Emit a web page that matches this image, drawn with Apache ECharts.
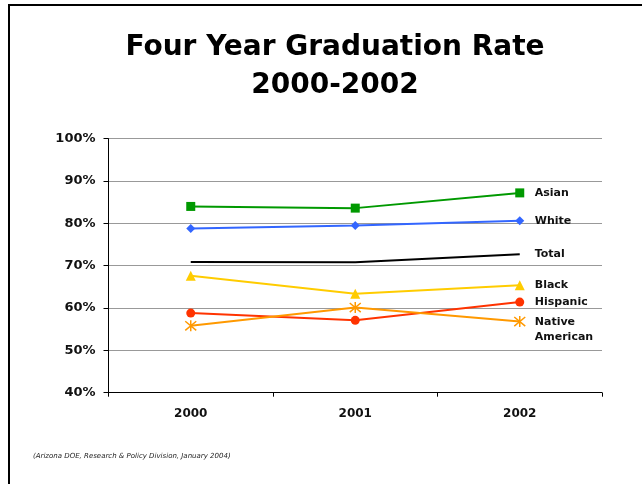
<!DOCTYPE html>
<html><head><meta charset="utf-8">
<script src="https://cdn.jsdelivr.net/npm/echarts@6/dist/echarts.min.js"></script>
<style>html,body{margin:0;padding:0;background:#fff}#c{width:642px;height:484px}</style>
</head><body><div id="c"></div>
<script>
const categories = ['2000', '2001', '2002'];
const asian = [84.0, 83.6, 87.2];
const white = [78.8, 79.5, 80.6];
const total = [70.9, 70.8, 72.7];
const black = [67.6, 63.4, 65.4];
const hispanic = [58.8, 57.1, 61.4];
const nativeAmerican = [55.8, 60.1, 56.8];
const yTicks = [40, 50, 60, 70, 80, 90, 100];

const FONT = 'DejaVu Sans';
const chart = echarts.init(document.getElementById('c'), null, {renderer: 'canvas'});
const star = 'path://M0,0L10,10M10,0L0,10M5,-1L5,11';

function mk(name, data, color, symbol, size, extra) {
  return {
    name, type: 'line', data,
    symbol, symbolSize: size,
    lineStyle: {color, width: 2},
    itemStyle: {color},
    emphasis: {disabled: true},
    animation: false,
    endLabel: {
      show: true, formatter: extra && extra.text ? extra.text : name,
      color: '#111', fontFamily: FONT, fontWeight: 'bold', fontSize: 11,
      distance: 15, offset: extra && extra.offset ? extra.offset : [0, 0],
      align: 'left', lineHeight: 15
    }
  };
}

const sNative = mk('Native American', nativeAmerican, '#FF9900', star, 11, {text: 'Native\nAmerican', offset: [0, 8]});
sNative.itemStyle = {color: 'transparent', borderColor: '#FF9900', borderWidth: 1.5};

chart.setOption({
  backgroundColor: '#fff',
  animation: false,
  title: {
    text: 'Four Year Graduation Rate\n2000-2002',
    left: 330, top: 24, textAlign: 'center',
    textStyle: {fontFamily: FONT, fontWeight: 'bold', fontSize: 28, color: '#000', lineHeight: 37.5}
  },
  grid: {left: 108.5, right: 40, top: 138.7, bottom: 91.3},
  xAxis: {
    type: 'category', data: categories, boundaryGap: true,
    axisLine: {lineStyle: {color: '#000', width: 1}},
    axisTick: {show: true, length: 4, lineStyle: {color: '#000'}},
    axisLabel: {fontFamily: FONT, fontWeight: 'bold', fontSize: 12, color: '#111', margin: 15}
  },
  yAxis: {
    type: 'value', min: yTicks[0], max: yTicks[yTicks.length - 1], interval: 10,
    axisLine: {show: true, lineStyle: {color: '#000', width: 1}},
    axisTick: {show: true, length: 5, lineStyle: {color: '#000'}},
    splitLine: {lineStyle: {color: '#999', width: 1}},
    axisLabel: {formatter: '{value}%', fontFamily: FONT, fontWeight: 'bold', fontSize: 13, color: '#111', margin: 13}
  },
  series: [
    mk('Asian', asian, '#009900', 'rect', 9),
    mk('White', white, '#3366FF', 'diamond', 9),
    mk('Total', total, '#000000', 'none', 0),
    mk('Black', black, '#FFCC00', 'triangle', 10),
    mk('Hispanic', hispanic, '#FF3300', 'circle', 9),
    sNative
  ],
  graphic: [
    {type: 'polyline', shape: {points: [[9, 484], [9, 5], [642, 5]]}, style: {stroke: '#000', lineWidth: 2, fill: null}},
    {type: 'text', left: 33, top: 453, style: {text: '(Arizona DOE, Research & Policy Division, January 2004)', fontFamily: FONT, fontStyle: 'italic', fontSize: 7, fill: '#222'}}
  ]
});
</script></body></html>
